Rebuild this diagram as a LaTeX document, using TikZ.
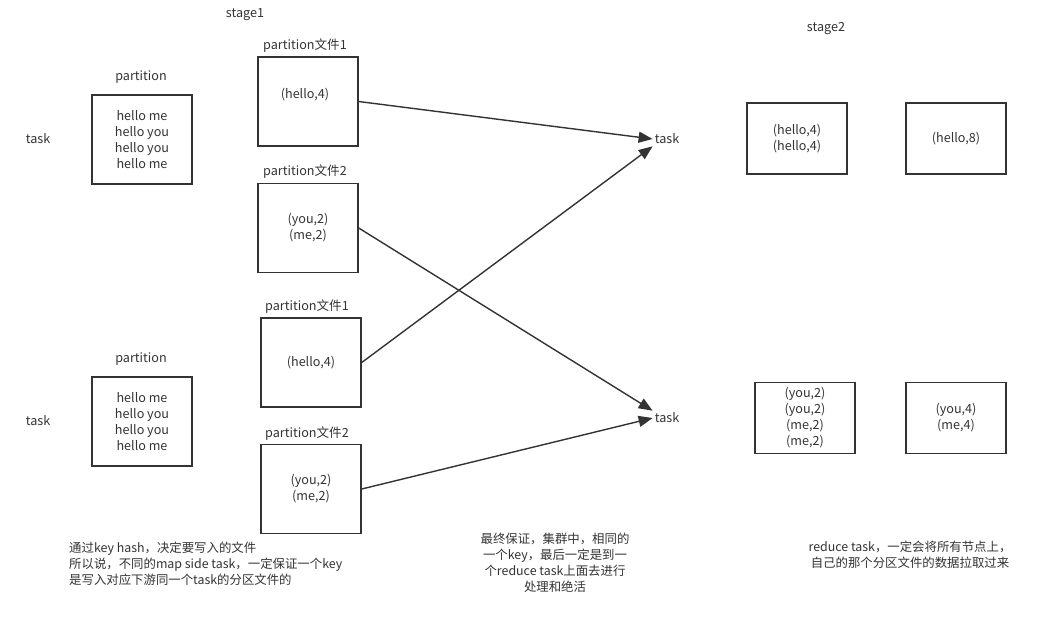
\documentclass[tikz,border=0pt]{standalone}
\usepackage{fontspec}
\setmainfont{Noto Sans CJK SC}
\usetikzlibrary{arrows.meta}
\definecolor{ink}{HTML}{333333}
\begin{document}
\begin{tikzpicture}[x=1pt,y=-1pt,
      every node/.style={text=ink, font=\fontsize{12.6}{16}\selectfont},
      partbox/.style={draw=ink, line width=1.4pt, minimum width=100pt, minimum height=89pt, align=center, inner sep=0pt},
      redbox/.style={draw=ink, line width=1.4pt, minimum width=100pt, minimum height=71pt, align=center, inner sep=0pt},
      plain/.style={inner sep=2pt},
      note/.style={font=\fontsize{12.4}{16}\selectfont, inner sep=0pt},
      shuffle/.style={draw=ink, line width=1.4pt, -{Triangle[length=14pt,width=11pt]}}]

   \useasboundingbox (0,0) rectangle (1051,625);

   \node[plain] (stageA) at (245,15)  {stage1};
   \node[plain] (stageB) at (826,28)  {stage2};

   \node[plain] (mapA)   at (38,139)  {task};
   \node[plain] (mapB)   at (38,421)  {task};

   \node[plain] (inA)    at (141,77)  {partition};
   \node[partbox] (srcA) at (142,139.5) {hello me\\hello you\\hello you\\hello me};
   \node[plain] (inB)    at (141,359) {partition};
   \node[partbox] (srcB) at (142,421.5) {hello me\\hello you\\hello you\\hello me};

   \node[plain] (lblA)   at (305,46)  {partition文件1};
   \node[partbox] (fileA) at (308,101.5) {};
   \node[plain] (txtA)   at (305,95)  {(hello,4)};
   \node[plain] (lblB)   at (305,172) {partition文件2};
   \node[partbox] (fileB) at (308,228) {(you,2)\\(me,2)};

   \node[plain] (lblC)   at (307,307) {partition文件1};
   \node[partbox] (fileC) at (311,362.5) {(hello,4)};
   \node[plain] (lblD)   at (307,434) {partition文件2};
   \node[partbox] (fileD) at (311,489) {(you,2)\\(me,2)};

   \node[plain] (redA)   at (667,139) {task};
   \node[plain] (redB)   at (667,418) {task};

   \node[redbox] (pullA) at (797,138.5) {(hello,4)\\(hello,4)};
   \node[redbox] (sumA)  at (956,138.5) {(hello,8)};
   \node[redbox] (pullB) at (805,418)   {(you,2)\\(you,2)\\(me,2)\\(me,2)};
   \node[redbox] (sumB)  at (956,418)   {(you,4)\\(me,4)};

   \draw[shuffle] (fileA.east) to (redA.west);
   \draw[shuffle] (fileB.east) to (redB.north west);
   \draw[shuffle] (fileC.east) to (redA.south west);
   \draw[shuffle] (fileD.east) to (redB.west);

   \node[note, anchor=west, align=left] (noteA) at (69,564)
      {通过key hash，决定要写入的文件\\所以说，不同的map side task，一定保证一个key\\是写入对应下游同一个task的分区文件的};
   \node[note, align=center] (noteB) at (555,563)
      {最终保证，集群中，相同的\\一个key，最后一定是到一\\个reduce task上面去进行\\处理和绝活};
   \node[note, align=center] (noteC) at (910,555)
      {reduce task，一定会将所有节点上，\\自己的那个分区文件的数据拉取过来};

 \end{tikzpicture}
\end{document}
